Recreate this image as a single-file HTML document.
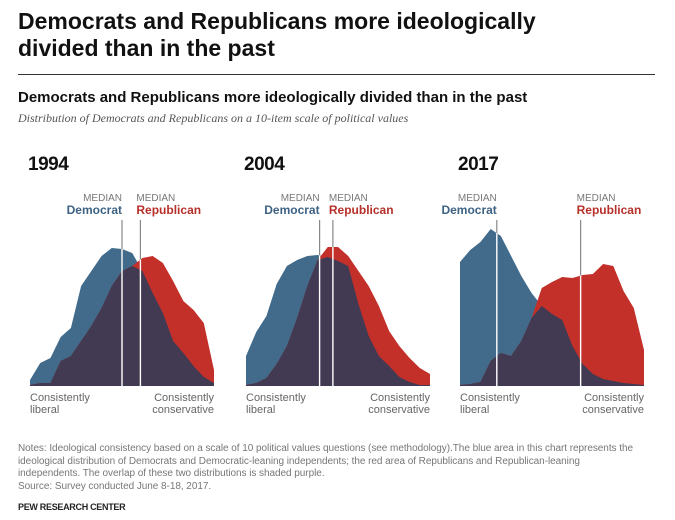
<!DOCTYPE html>
<html><head><meta charset="utf-8"><style>
body{margin:0;width:675px;height:520px;background:#fff;font-family:"Liberation Sans",sans-serif;overflow:hidden;position:relative}
.t{position:absolute;margin:0}
</style></head><body>
<div class="t" style="left:18px;top:8px;font-size:23px;font-weight:bold;line-height:27px;color:#111;width:590px">Democrats and Republicans more ideologically divided than in the past</div>
<div class="t" style="left:18px;top:74px;width:637px;height:1px;background:#333"></div>
<div class="t" style="left:18px;top:89px;font-size:15px;font-weight:bold;color:#111">Democrats and Republicans more ideologically divided than in the past</div>
<div class="t" style="left:18px;top:111px;font-size:12px;font-style:italic;font-family:'Liberation Serif',serif;color:#555">Distribution of Democrats and Republicans on a 10-item scale of political values</div>
<svg id="c" width="675" height="520" style="position:absolute;left:0;top:0"></svg>
<div class="t" style="left:18px;top:443px;font-size:10px;line-height:12.5px;color:#777;width:650px;letter-spacing:-0.05px;white-space:nowrap">Notes: Ideological consistency based on a scale of 10 political values questions (see methodology).The blue area in this chart represents the<br>ideological distribution of Democrats and Democratic-leaning independents; the red area of Republicans and Republican-leaning<br>independents. The overlap of these two distributions is shaded purple.<br>Source: Survey conducted June 8-18, 2017.</div>
<div class="t" style="left:18px;top:502px;font-size:9px;font-weight:bold;color:#222;letter-spacing:-0.3px">PEW RESEARCH CENTER</div>
<script>
const years=["1994","2004","2017"];
const dem1994=[6,23,28,49,58,100,115,130,138,137,133,115,93,73,45,33,20,9,3];
const rep1994=[1,3,3,25,30,45,60,78,100,115,120,128,130,123,105,85,76,63,16];
const dem2004=[30,54,70,102,120,126,130,131,129,125,120,82,50,30,20,9,4,1,1];
const rep2004=[1,3,8,22,40,68,100,126,139,139,130,115,100,80,55,40,28,18,12];
const dem2017=[124,136,144,157,150,130,110,93,80,72,66,40,22,12,7,5,3,2,1];
const rep2017=[1,2,4,25,33,30,45,68,98,104,109,108,111,112,122,120,95,78,36];
const demMedian=[9.0,7.2,3.6];
const repMedian=[10.8,8.5,11.8];
const dems=[dem1994,dem2004,dem2017], reps=[rep1994,rep2004,rep2017];
const lefts=[30,246,460], W=184, base=386;
const svg=document.getElementById('c'), NS='http://www.w3.org/2000/svg';
function mk(tag,attrs,parent){const e=document.createElementNS(NS,tag);for(const k in attrs)e.setAttribute(k,attrs[k]);(parent||svg).appendChild(e);return e;}
function txt(x,y,s,st,anchor){const e=mk('text',{x:x,y:y,'text-anchor':anchor||'start',style:st});e.textContent=s;return e;}
years.forEach((yr,p)=>{
  const L=lefts[p], d=dems[p], r=reps[p], n=d.length;
  const xs=i=>L+i*W/(n-1), ys=v=>base-v;
  const g=mk('g',{});
  
  
  function area(arr){let s='M'+xs(0)+','+base;arr.forEach((v,i)=>s+=' L'+xs(i)+','+ys(v));return s+' L'+xs(n-1)+','+base+' Z';}
  const dx=L+demMedian[p]*W/(n-1), rx=L+repMedian[p]*W/(n-1);
  const l1=mk('line',{x1:dx,x2:dx,y1:220,y2:base,stroke:'#888','stroke-width':1.2},g);
  
  
  const l2=mk('line',{x1:rx,x2:rx,y1:220,y2:base,stroke:'#888','stroke-width':1.2},g);
  
  
  const a1=mk('path',{d:area(d),fill:'#426b8b'},g);
  
  
  const a2=mk('path',{d:area(r),fill:'#c3302a'},g);
  
  
  const a3=mk('path',{d:area(d.map((v,i)=>Math.min(v,r[i]))),fill:'#413a52'},g);
  
  
  const cp=mk('clipPath',{id:'cp'+p},g);
  mk('path',{d:area(d)},cp);mk('path',{d:area(r)},cp);
  const w1=mk('line',{x1:dx,x2:dx,y1:200,y2:base,stroke:'#fff','stroke-width':1.4,'clip-path':'url(#cp'+p+')'},g);
  
  
  const w2=mk('line',{x1:rx,x2:rx,y1:200,y2:base,stroke:'#fff','stroke-width':1.4,'clip-path':'url(#cp'+p+')'},g);
  
  
  const yt=txt(L-2,170,yr,'font-size:19px;font-weight:bold;fill:#111;letter-spacing:-0.5px');
  
  
  const m1=txt(dx,201,'MEDIAN','font-size:10px;fill:#777','end');
  
  
  const m2=txt(dx,214,'Democrat','font-size:12px;font-weight:bold;fill:#3d6283','end');
  
  
  const m3=txt(rx-4,201,'MEDIAN','font-size:10px;fill:#777');
  
  
  const m4=txt(rx-4,214,'Republican','font-size:12px;font-weight:bold;fill:#b7302a');
  
  
  const s='font-size:11px;fill:#666';
  const c1=txt(L,401,'Consistently',s);
  const c2=txt(L,413,'liberal',s);
  const c3=txt(L+W,401,'Consistently',s,'end');
  const c4=txt(L+W,413,'conservative',s,'end');
});
</script>
</body></html>
